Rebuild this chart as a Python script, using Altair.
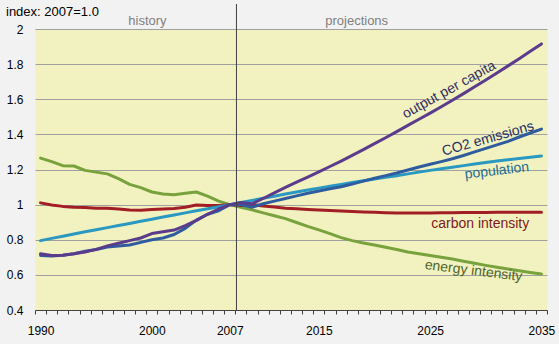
import altair as alt
import pandas as pd

# ---- data (index: 2007 = 1.0) ----
years = list(range(1990, 2036))

output_per_capita = [
    0.72, 0.71, 0.712, 0.72, 0.73, 0.745, 0.765, 0.78, 0.795, 0.81,
    0.835, 0.845, 0.855, 0.88, 0.91, 0.945, 0.975, 1.0,
    1.012, 1.005, 1.035, 1.067, 1.098, 1.128, 1.157, 1.187, 1.217, 1.248,
    1.28, 1.313, 1.347, 1.381, 1.416, 1.451, 1.486, 1.521, 1.557, 1.594,
    1.632, 1.671, 1.71, 1.75, 1.79, 1.831, 1.873, 1.915,
]
co2_emissions = [
    0.71, 0.708, 0.712, 0.72, 0.735, 0.745, 0.758, 0.765, 0.77, 0.785,
    0.80, 0.81, 0.83, 0.865, 0.912, 0.945, 0.965, 1.0,
    1.0, 0.985, 1.005, 1.02, 1.035, 1.05, 1.065, 1.078, 1.09, 1.102,
    1.117, 1.134, 1.15, 1.165, 1.18, 1.197, 1.214, 1.23, 1.245, 1.261,
    1.28, 1.30, 1.32, 1.34, 1.36, 1.385, 1.408, 1.43,
]
population = [
    0.795, 0.808, 0.82, 0.833, 0.845, 0.857, 0.869, 0.881, 0.893, 0.905,
    0.917, 0.929, 0.941, 0.953, 0.965, 0.977, 0.988, 1.0,
    1.012, 1.024, 1.036, 1.048, 1.06, 1.072, 1.083, 1.094, 1.105, 1.115,
    1.126, 1.136, 1.146, 1.156, 1.165, 1.175, 1.185, 1.195, 1.204, 1.213,
    1.222, 1.231, 1.24, 1.248, 1.255, 1.262, 1.27, 1.277,
]
carbon_intensity = [
    1.01, 0.998, 0.99, 0.985, 0.983, 0.98, 0.98, 0.975, 0.97, 0.968,
    0.972, 0.975, 0.978, 0.985, 0.998, 0.995, 0.995, 1.0,
    0.995, 1.0, 0.992, 0.986, 0.98, 0.976, 0.972, 0.969, 0.966, 0.964,
    0.961, 0.958, 0.956, 0.954, 0.953, 0.953, 0.953, 0.953, 0.954, 0.954,
    0.955, 0.955, 0.955, 0.956, 0.956, 0.956, 0.956, 0.956,
]
energy_intensity = [
    1.265, 1.245, 1.222, 1.22, 1.195, 1.185, 1.175, 1.148, 1.115, 1.097,
    1.072, 1.06, 1.056, 1.065, 1.072, 1.048, 1.02, 1.0,
    0.985, 0.97, 0.953, 0.937, 0.92, 0.898, 0.876, 0.856, 0.835, 0.812,
    0.795, 0.782, 0.77, 0.757, 0.744, 0.73, 0.72, 0.71, 0.70, 0.69,
    0.678, 0.666, 0.654, 0.643, 0.633, 0.623, 0.614, 0.605,
]

series_names = ["energy intensity", "carbon intensity", "population",
                "CO2 emissions", "output per capita"]
series_values = [energy_intensity, carbon_intensity, population,
                 co2_emissions, output_per_capita]
series_colors = ["#78a23c", "#a21e24", "#2a98c0", "#2e5c9e", "#5b3c8c"]

label_years = [1990, 2000, 2007, 2015, 2025, 2035]
y_ticks = [0.4, 0.6, 0.8, 1.0, 1.2, 1.4, 1.6, 1.8, 2.0]

rows = []
for name, vals in zip(series_names, series_values):
    for yr, v in zip(years, vals):
        rows.append({"series": name, "year": yr, "value": v})
df = pd.DataFrame(rows)
one = pd.DataFrame({"k": [0]})

FONT = "Liberation Sans, Arial, sans-serif"
W, H = 512, 281

# tick marks sit on the year boundaries (category-style axis)
tick_vals = [y - 0.5 for y in years] + [years[-1] + 0.5]
lbl_list = ",".join(str(y) for y in label_years)
label_expr = (f"indexof([{lbl_list}], datum.value + 0.5) >= 0 ? "
              f"'' + (datum.value + 0.5) : ''")

x_enc = alt.X(
    "year:Q",
    scale=alt.Scale(domain=[years[0] - 0.5, years[-1] + 0.5], nice=False, zero=False),
    axis=alt.Axis(values=tick_vals, tickCount=100, labelExpr=label_expr,
                  labelOffset=W / len(years) / 2,
                  tickSize=4, tickColor="#404040", domainColor="#404040",
                  labelPadding=11, labelFontSize=12, labelColor="#000000",
                  labelFont=FONT, grid=False, title=None, labelOverlap=False,
                  labelFlush=False, labelBound=False, labelAngle=0),
)
y_enc = alt.Y(
    "value:Q",
    scale=alt.Scale(domain=[0.4, 2.0], nice=False, zero=False),
    axis=alt.Axis(values=y_ticks, tickCount=20, format=".1~f", grid=True,
                  gridColor="#a0a0a0", gridWidth=1, ticks=False, domain=False,
                  labelPadding=12, labelOverlap=False, labelFontSize=12,
                  labelColor="#000000", labelFont=FONT, title=None),
)

lines = alt.Chart(df).mark_line(strokeWidth=3, strokeCap="round", strokeJoin="round").encode(
    x=x_enc,
    y=y_enc,
    color=alt.Color("series:N", scale=alt.Scale(domain=series_names, range=series_colors),
                    legend=None),
    detail="series:N",
    order="year:Q",
)

divider = alt.Chart(one).mark_rule(color="#404040", strokeWidth=1).encode(
    x=alt.datum(2007.6), y=alt.value(-25), y2=alt.value(H)
)

def txt(text, xv, yv, color, angle=0, size=14):
    return alt.Chart(one).mark_text(
        text=text, font=FONT, fontSize=size, color=color, angle=angle,
        align="center", baseline="middle"
    ).encode(x=alt.datum(xv), y=alt.datum(yv))

labels = [
    txt("output per capita", 2026.7, 1.653, "#332c5e", angle=331),
    txt("CO2 emissions", 2030.2, 1.374, "#1f2f66", angle=344),
    txt("population", 2031.0, 1.192, "#1f6d91", angle=353),
    txt("carbon intensity", 2029.5, 0.89, "#7e1a1c"),
    txt("energy intensity", 2028.9, 0.622, "#50652a", angle=7),
]

period_history = alt.Chart(one).mark_text(
    text="history", font=FONT, fontSize=13, color="#7f7f7f", baseline="middle"
).encode(x=alt.datum(1999.6), y=alt.value(-8))
period_proj = alt.Chart(one).mark_text(
    text="projections", font=FONT, fontSize=13, color="#7f7f7f", baseline="middle"
).encode(x=alt.datum(2018.4), y=alt.value(-8))

index_title = alt.Chart(one).mark_text(
    text="index: 2007=1.0", font=FONT, fontSize=13, color="#000000",
    align="left", baseline="middle"
).encode(x=alt.value(-29), y=alt.value(-17))

chart = alt.layer(
    lines, divider, *labels, period_history, period_proj, index_title
).properties(
    width=W, height=H,
    autosize=alt.AutoSizeParams(type="none"),
    padding={"left": 35, "top": 29, "right": 12, "bottom": 34},
    background="#f2f2f2",
).configure_view(
    fill="#f2f2c0", stroke="transparent"
)

chart.save("out.html", embed_options={"renderer": "svg", "actions": False})
